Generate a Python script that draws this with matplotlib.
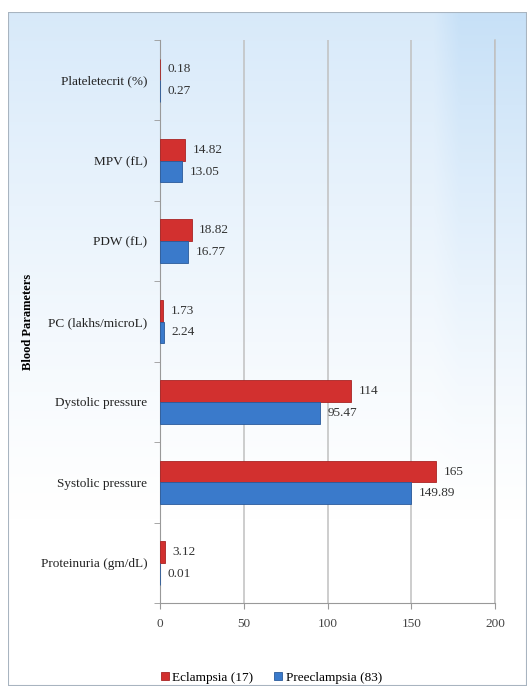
import numpy as np
import matplotlib.pyplot as plt
from matplotlib.patches import Rectangle

# Data
categories = ['Plateletecrit (%)', 'MPV (fL)', 'PDW (fL)', 'PC (lakhs/microL)',
              'Dystolic pressure', 'Systolic pressure', 'Proteinuria (gm/dL)']
eclampsia = [0.18, 14.82, 18.82, 1.73, 114, 165, 3.12]
preeclampsia = [0.27, 13.05, 16.77, 2.24, 95.47, 149.89, 0.01]
ecl_labels = ['0.18', '14.82', '18.82', '1.73', '114', '165', '3.12']
pre_labels = ['0.27', '13.05', '16.77', '2.24', '95.47', '149.89', '0.01']
xticks = [0, 50, 100, 150, 200]

plt.rcParams['font.family'] = ['Liberation Serif', 'DejaVu Serif']

fig = plt.figure(figsize=(5.27, 6.88), dpi=100)
fig.patch.set_facecolor('white')

# background gradient (light blue at top, white toward bottom)
bg = fig.add_axes([0.015, 0.003, 0.985, 0.98], zorder=0)
h, w = 200, 200
yy = np.linspace(0, 1, h)[:, None]
xx = np.linspace(0, 1, w)[None, :]
fade = np.clip(1 - yy / 0.75, 0, 1) ** 1.2
side = 0.7 + 0.3 * np.clip((xx - 0.82) / 0.05, 0, 1)
strength = fade * side
top = np.array([0.78, 0.88, 0.97])
img = 1 - (1 - top)[None, None, :] * strength[:, :, None]
bg.imshow(img, aspect='auto', extent=[0, 1, 0, 1], origin='upper')
bg.add_patch(Rectangle((0, 0), 1, 1, transform=bg.transAxes, fill=False,
                       edgecolor='#a8b4c0', linewidth=1.5))
bg.set_axis_off()

ax = fig.add_axes([0.3036, 0.1235, 0.6357, 0.8183], zorder=1)
ax.patch.set_alpha(0)

y = np.arange(len(categories))
bh = 0.27
ax.barh(y - bh / 2, eclampsia, height=bh, color='#d2302f', edgecolor='#a82424',
        linewidth=0.6, label='Eclampsia (17)', zorder=3)
ax.barh(y + bh / 2, preeclampsia, height=bh, color='#3a7acb', edgecolor='#2a5a9a',
        linewidth=0.6, label='Preeclampsia (83)', zorder=3)

for i in range(len(categories)):
    ax.text(eclampsia[i] + 4.5, y[i] - bh / 2, ecl_labels[i], va='center', ha='left',
            fontsize=9.5, color='#333333', zorder=4)
    ax.text(preeclampsia[i] + 4.5, y[i] + bh / 2, pre_labels[i], va='center', ha='left',
            fontsize=9.5, color='#333333', zorder=4)

ax.set_xlim(0, 200)
ax.set_ylim(len(categories) - 0.5, -0.5)
ax.set_xticks(xticks)
ax.set_xticklabels([str(t) for t in xticks], fontsize=9.5, color='#444444')
ax.set_yticks(y)
ax.set_yticklabels(categories, fontsize=9.5, color='#222222')
ax.tick_params(axis='y', length=0, pad=9)
ax.tick_params(axis='x', length=4, color='#999999', pad=7)
ax.set_yticks(np.arange(len(categories) + 1) - 0.5, minor=True)
ax.tick_params(axis='y', which='minor', length=4, color='#999999')

ax.grid(axis='x', color='#c0c0c0', linewidth=1.1, zorder=1)
ax.axvline(200, color='#c0c0c0', linewidth=1.1, zorder=1, clip_on=False)
for s in ['top', 'right']:
    ax.spines[s].set_visible(False)
ax.spines['left'].set_color('#999999')
ax.spines['bottom'].set_color('#999999')

ax.set_ylabel('Blood Parameters', fontsize=9, fontweight='bold')
ax.yaxis.set_label_coords(-0.375, 0.5)

fig.legend(loc='lower center', bbox_to_anchor=(0.515, -0.011), ncol=2, frameon=False,
           fontsize=9.5, handlelength=0.6, handleheight=0.6, handletextpad=0.25,
           columnspacing=1.6)

plt.savefig('out.png', dpi=100)
